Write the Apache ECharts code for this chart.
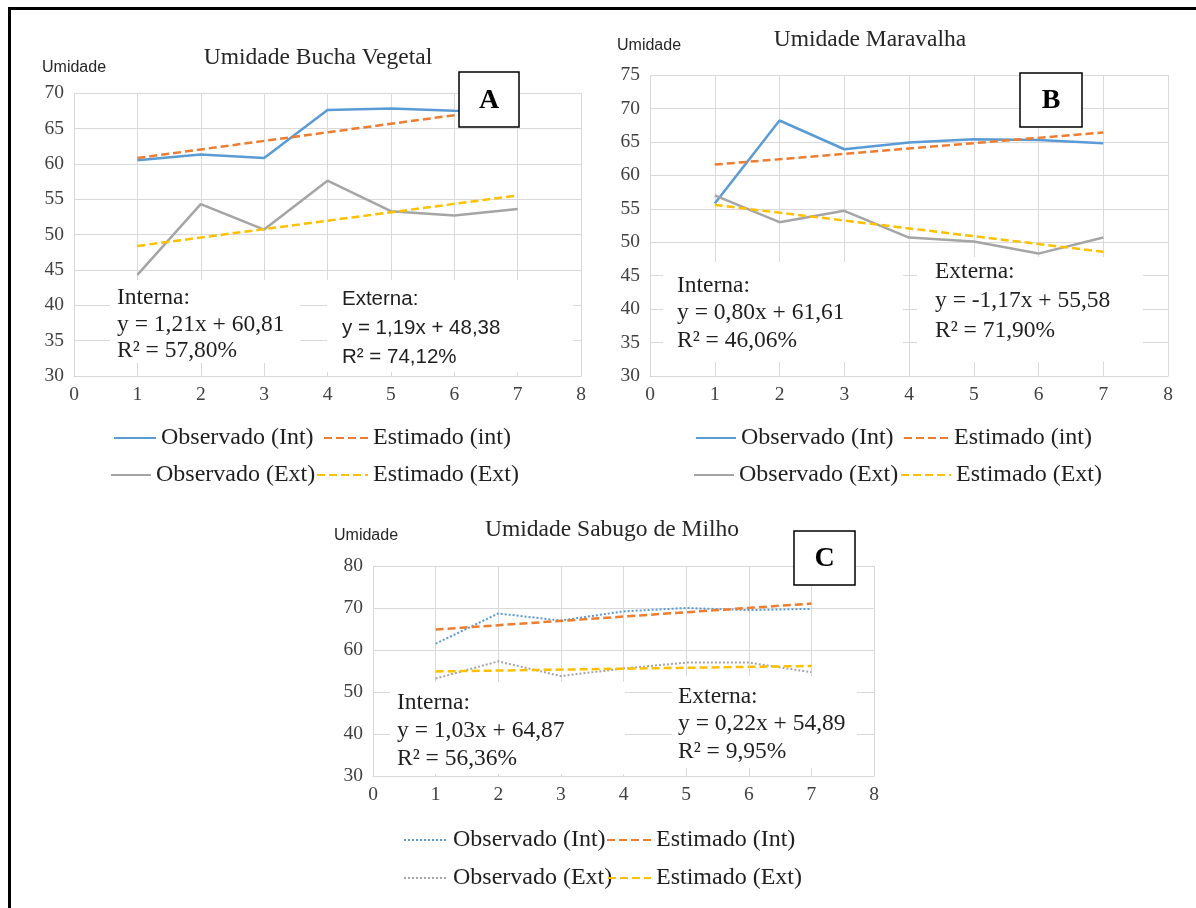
<!DOCTYPE html>
<html>
<head>
<meta charset="utf-8">
<script src="https://cdn.jsdelivr.net/npm/echarts@6/dist/echarts.min.js"></script>
<style>
  html, body { margin: 0; padding: 0; background: #fff; }
  #page { position: relative; width: 1196px; height: 908px; overflow: hidden; background: #fff; }
  .layer { position: absolute; left: 0; top: 0; width: 1196px; height: 908px; }
  #frame { position: absolute; left: 8px; top: 7px; width: 1200px; height: 910px;
           border-top: 3px solid #000; border-left: 3px solid #000; pointer-events: none; }
</style>
</head>
<body>
<div id="page">
  <div id="chartA" class="layer"></div>
  <div id="chartB" class="layer"></div>
  <div id="chartC" class="layer"></div>
  <div id="frame"></div>
</div>
<script>
// ---- data ----
const days = [1, 2, 3, 4, 5, 6, 7];

// Bucha vegetal
const buchaObsInt = [60.5, 61.3, 60.8, 67.6, 67.8, 67.5, 67.3];
const buchaObsExt = [44.3, 54.3, 50.7, 57.6, 53.3, 52.7, 53.6];
const buchaFitInt = [1.21, 60.81];   // slope, intercept
const buchaFitExt = [1.19, 48.38];
const buchaR2 = [57.80, 74.12];
const buchaYAxis = [30, 70, 5];      // min, max, step

// Maravalha
const maravObsInt = [55.8, 68.2, 63.9, 64.9, 65.4, 65.3, 64.8];
const maravObsExt = [57.0, 53.0, 54.7, 50.7, 50.1, 48.3, 50.7];
const maravFitInt = [0.80, 61.61];
const maravFitExt = [-1.17, 55.58];
const maravR2 = [46.06, 71.90];
const maravYAxis = [30, 75, 5];

// Sabugo de milho
const sabugoObsInt = [61.5, 68.7, 67.0, 69.2, 70.0, 69.5, 69.8];
const sabugoObsExt = [53.2, 57.3, 53.8, 55.6, 57.0, 57.0, 54.7];
const sabugoFitInt = [1.03, 64.87];
const sabugoFitExt = [0.22, 54.89];
const sabugoR2 = [56.36, 9.95];
const sabugoYAxis = [30, 80, 10];

const xAxisRange = [0, 8, 1];

// ---- styling ----
const SERIF = '"Liberation Serif", "Times New Roman", serif';
const SANS = '"Liberation Sans", Arial, sans-serif';
const BLUE = '#5b9bd5', ORANGE = '#ed7d31', GRAY = '#a5a5a5', YELLOW = '#ffc000';
const GRID = '#d9d9d9';

function fmt(n) { return n.toFixed(2).replace('.', ','); }
function equation(fit) {
  return 'y = ' + fmt(fit[0]) + 'x + ' + fmt(fit[1]);
}
function r2Text(v) { return 'R² = ' + fmt(v) + '%'; }

// trend line drawn across the observed days; first day sits at the intercept
function trendPoints(fit) {
  const first = days[0], last = days[days.length - 1];
  return [[first, fit[1]], [last, fit[1] + fit[0] * (last - first)]];
}
function pairs(values) { return days.map((d, i) => [d, values[i]]); }

function lineSeries(name, data, color, type, width) {
  return {
    type: 'line', name: name, data: data, symbol: 'none', silent: true,
    color: color, z: 2, animation: false,
    lineStyle: { color: color, width: width, type: type, cap: 'butt' }
  };
}

// one legend entry per component so each can be placed on its own
function legendItem(name, pos) {
  return {
    data: [name], left: pos[0], top: pos[1], itemWidth: pos[2], itemHeight: 14,
    selectedMode: false, padding: 0,
    itemStyle: { opacity: 0 },
    textStyle: { fontFamily: SERIF, fontSize: 24, color: '#1f1f1f' }
  };
}

function textBlock(lines, x, y, font, lh) {
  return {
    type: 'text', z: 5, silent: true,
    style: { text: lines.join('\n'), x: x, y: y, font: font, lineHeight: lh,
             fill: '#1f1f1f', align: 'left', verticalAlign: 'top' }
  };
}
function whiteBox(b) {
  return { type: 'rect', z: 1, silent: true, shape: { x: b[0], y: b[1], width: b[2], height: b[3] },
           style: { fill: '#fff' } };
}

function buildChart(p) {
  const graphics = [
    whiteBox(p.intBox), whiteBox(p.extBox),
    textBlock(['Interna:', equation(p.fitInt), r2Text(p.r2[0])], p.intText[0], p.intText[1], p.intFont, p.intLh),
    textBlock(['Externa:', equation(p.fitExt), r2Text(p.r2[1])], p.extText[0], p.extText[1], p.extFont, p.extLh),
    { type: 'text', z: 5, silent: true,
      style: { text: p.title, x: p.titlePos[0], y: p.titlePos[1], font: '23.5px ' + SERIF,
               fill: '#262626', align: 'center', verticalAlign: 'middle' } },
    { type: 'text', z: 5, silent: true,
      style: { text: 'Umidade', x: p.unitPos[0], y: p.unitPos[1], font: '16px ' + SANS,
               fill: '#262626', align: 'left', verticalAlign: 'middle' } },
    { type: 'rect', z: 10, silent: true,
      shape: { x: p.letterBox[0], y: p.letterBox[1], width: p.letterBox[2], height: p.letterBox[3] },
      style: { fill: '#fff', stroke: '#000', lineWidth: 1.5 } },
    { type: 'text', z: 11, silent: true,
      style: { text: p.letter, x: p.letterBox[0] + p.letterBox[2] / 2, y: p.letterBox[1] + p.letterBox[3] / 2 + 1,
               font: 'bold 28px ' + SERIF, fill: '#000', align: 'center', verticalAlign: 'middle' } }
  ];
  return {
    backgroundColor: 'transparent',
    animation: false,
    grid: { left: p.grid[0], top: p.grid[1], width: p.grid[2], height: p.grid[3], containLabel: false },
    xAxis: {
      type: 'value', min: xAxisRange[0], max: xAxisRange[1], interval: xAxisRange[2],
      axisLine: { show: true, lineStyle: { color: GRID, width: 1 } },
      axisTick: { show: false },
      splitLine: { show: true, lineStyle: { color: GRID, width: 1 } },
      axisLabel: { fontFamily: SERIF, fontSize: 19.5, color: '#404040', margin: 9 }
    },
    yAxis: {
      type: 'value', min: p.yAxis[0], max: p.yAxis[1], interval: p.yAxis[2],
      axisLine: { show: false }, axisTick: { show: false },
      splitLine: { show: true, lineStyle: { color: GRID, width: 1 } },
      axisLabel: { fontFamily: SERIF, fontSize: 19.5, color: '#404040', margin: 10 }
    },
    legend: p.legend.map((pos, i) => legendItem(p.names[i], pos)),
    series: [
      lineSeries(p.names[0], pairs(p.obsInt), BLUE, p.obsType, p.obsWidth),
      lineSeries(p.names[2], pairs(p.obsExt), GRAY, p.obsType, p.obsWidth),
      lineSeries(p.names[1], trendPoints(p.fitInt), ORANGE, [8, 4], 2.5),
      lineSeries(p.names[3], trendPoints(p.fitExt), YELLOW, [8, 4], 2.5)
    ],
    graphic: graphics
  };
}

const chartA = buildChart({
  title: 'Umidade Bucha Vegetal', titlePos: [318, 58], unitPos: [42, 68], letter: 'A',
  grid: [74, 93, 507, 283], yAxis: buchaYAxis,
  obsInt: buchaObsInt, obsExt: buchaObsExt, fitInt: buchaFitInt, fitExt: buchaFitExt, r2: buchaR2,
  obsType: 'solid', obsWidth: 2.5,
  names: ['Observado (Int)', 'Estimado (int)', 'Observado (Ext)', 'Estimado (Ext)'],
  legend: [[113, 426, 42], [323, 426, 44], [110, 463, 40], [316, 463, 51]],
  letterBox: [459, 72, 60, 55],
  intBox: [110, 280, 190, 83], extBox: [327, 280, 246, 92],
  intText: [117, 285], intFont: '23.5px ' + SERIF, intLh: 26.5,
  extText: [342, 285], extFont: '20.5px ' + SANS, extLh: 29
});

const chartB = buildChart({
  title: 'Umidade Maravalha', titlePos: [870, 40], unitPos: [617, 46], letter: 'B',
  grid: [650, 75, 518, 301], yAxis: maravYAxis,
  obsInt: maravObsInt, obsExt: maravObsExt, fitInt: maravFitInt, fitExt: maravFitExt, r2: maravR2,
  obsType: 'solid', obsWidth: 2.5,
  names: ['Observado (Int)', 'Estimado (int)', 'Observado (Ext)', 'Estimado (Ext)'],
  legend: [[695, 426, 40], [903, 426, 45], [693, 463, 40], [900, 463, 50]],
  letterBox: [1020, 73, 62, 54],
  intBox: [663, 262, 240, 100], extBox: [917, 257, 226, 105],
  intText: [677, 272], intFont: '23.5px ' + SERIF, intLh: 27.5,
  extText: [935, 257], extFont: '23.5px ' + SERIF, extLh: 29.5
});

const chartC = buildChart({
  title: 'Umidade Sabugo de Milho', titlePos: [612, 530], unitPos: [334, 536], letter: 'C',
  grid: [373, 566, 501, 210], yAxis: sabugoYAxis,
  obsInt: sabugoObsInt, obsExt: sabugoObsExt, fitInt: sabugoFitInt, fitExt: sabugoFitExt, r2: sabugoR2,
  obsType: [2, 2], obsWidth: 2,
  names: ['Observado (Int)', 'Estimado (Int)', 'Observado (Ext)', 'Estimado (Ext)'],
  legend: [[403, 828, 44], [606, 828, 44], [403, 866, 44], [607, 866, 43]],
  letterBox: [794, 531, 61, 54],
  intBox: [390, 682, 235, 92], extBox: [672, 676, 185, 92],
  intText: [397, 689], intFont: '23.5px ' + SERIF, intLh: 28,
  extText: [678, 683], extFont: '23.5px ' + SERIF, extLh: 27.5
});

[['chartA', chartA], ['chartB', chartB], ['chartC', chartC]].forEach(([id, opt]) => {
  const inst = echarts.init(document.getElementById(id), null, { renderer: 'canvas' });
  inst.setOption(opt);
});
</script>
</body>
</html>
